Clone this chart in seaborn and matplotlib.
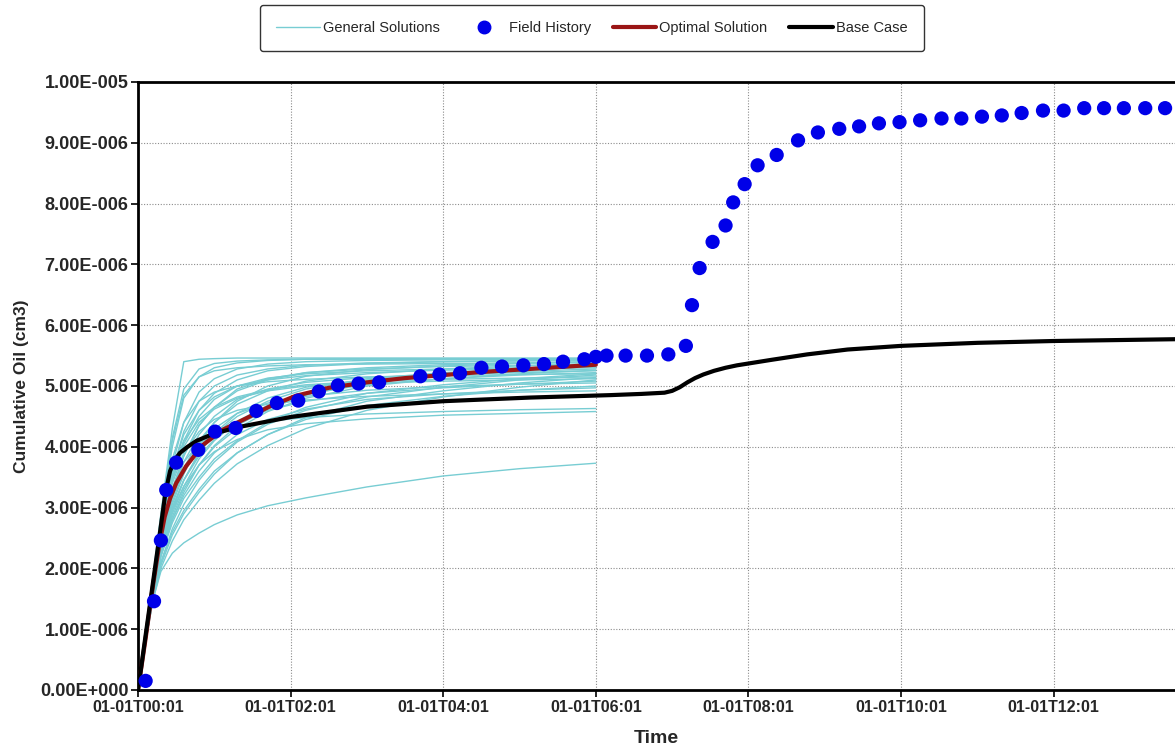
import numpy as np
import pandas as pd
import matplotlib
matplotlib.use("Agg")
import matplotlib.pyplot as plt
import seaborn as sns
from matplotlib.lines import Line2D

# ---------------- data (values in units of 1e-6 cm3, time in hours after 00:01) -------------
X_TICKS = [0, 2, 4, 6, 8, 10, 12]
X_TICK_LABELS = ["01-01T00:01", "01-01T02:01", "01-01T04:01", "01-01T06:01",
                 "01-01T08:01", "01-01T10:01", "01-01T12:01"]
Y_TICKS = [0, 1, 2, 3, 4, 5, 6, 7, 8, 9, 10]
Y_TICK_LABELS = ["0.00E+000", "1.00E-006", "2.00E-006", "3.00E-006", "4.00E-006",
                 "5.00E-006", "6.00E-006", "7.00E-006", "8.00E-006", "9.00E-006",
                 "1.00E-005"]

# Field history (blue dots)
FH_T = [0.10, 0.21, 0.30, 0.37, 0.50, 0.79, 1.01, 1.28, 1.55, 1.82, 2.10, 2.37, 2.62,
        2.89, 3.16, 3.70, 3.95, 4.22, 4.50, 4.77, 5.05, 5.32, 5.57, 5.85, 6.00, 6.14,
        6.39, 6.67, 6.95, 7.18, 7.26, 7.36, 7.53, 7.70, 7.80, 7.95, 8.12, 8.37, 8.65,
        8.91, 9.19, 9.45, 9.71, 9.98, 10.25, 10.53, 10.79, 11.06, 11.32, 11.58, 11.86,
        12.13, 12.40, 12.66, 12.92, 13.20, 13.46]
FH_Y = [0.15, 1.46, 2.46, 3.29, 3.74, 3.95, 4.25, 4.31, 4.59, 4.72, 4.76, 4.91, 5.01,
        5.04, 5.06, 5.16, 5.19, 5.21, 5.30, 5.32, 5.34, 5.36, 5.40, 5.44, 5.48, 5.50,
        5.50, 5.50, 5.52, 5.66, 6.33, 6.94, 7.37, 7.64, 8.02, 8.32, 8.63, 8.80, 9.04,
        9.17, 9.23, 9.27, 9.32, 9.34, 9.37, 9.40, 9.40, 9.43, 9.45, 9.49, 9.53, 9.53,
        9.57, 9.57, 9.57, 9.57, 9.57]

# Optimal solution (dark red)
OPT_T = [0, 0.1, 0.2, 0.28, 0.35, 0.42, 0.5, 0.63, 0.85, 1.11, 1.42, 1.72, 2.07, 2.5,
         3.0, 3.5, 4.0, 4.5, 5.0, 5.5, 6.0]
OPT_Y = [0, 0.85, 1.75, 2.4, 2.85, 3.15, 3.4, 3.68, 4.03, 4.28, 4.47, 4.66, 4.84, 4.97,
         5.06, 5.13, 5.18, 5.23, 5.27, 5.31, 5.35]

# Base case (black)
BASE_T = [0, 0.1, 0.2, 0.3, 0.36, 0.42, 0.48, 0.55, 0.65, 0.77, 1.0, 1.34, 2.0, 3.0, 4.0,
          5.14, 6.19, 6.6, 6.9, 7.0, 7.1, 7.2, 7.3, 7.41, 7.55, 7.7, 7.85, 8.0, 8.3, 8.77,
          9.3, 10.0, 11.0, 12.0, 13.62]
BASE_Y = [0, 0.9, 1.8, 2.7, 3.25, 3.6, 3.78, 3.9, 4.0, 4.1, 4.22, 4.33, 4.49, 4.66, 4.75,
          4.81, 4.85, 4.87, 4.89, 4.92, 4.98, 5.06, 5.13, 5.19, 5.25, 5.30, 5.34, 5.37,
          5.43, 5.52, 5.60, 5.66, 5.71, 5.74, 5.77]

# General solutions (cyan), all sampled at GEN_T
GEN_T = [0, 0.1, 0.2, 0.3, 0.45, 0.6, 0.8, 1.0, 1.3, 1.7, 2.2, 3.0, 4.0, 5.0, 6.0]
GEN_A = [0, 0.9, 1.9, 2.9, 4.3, 5.40, 5.44, 5.45, 5.46, 5.46, 5.46, 5.46, 5.46, 5.46, 5.46]
GEN_B = [0, 0.9, 1.8, 2.8, 4.0, 4.8, 5.15, 5.30, 5.38, 5.42, 5.44, 5.45, 5.45, 5.45, 5.45]
GEN_C = [0, 0.9, 1.8, 2.7, 3.7, 4.4, 4.9, 5.12, 5.28, 5.36, 5.40, 5.42, 5.43, 5.44, 5.44]
GEN_D = [0, 0.85, 1.75, 2.6, 3.5, 4.1, 4.6, 4.88, 5.1, 5.25, 5.32, 5.37, 5.40, 5.42, 5.43]
GEN_E = [0, 0.85, 1.7, 2.5, 3.3, 3.85, 4.35, 4.65, 4.92, 5.1, 5.22, 5.3, 5.35, 5.38, 5.40]
GEN_F = [0, 0.85, 1.7, 2.45, 3.15, 3.65, 4.1, 4.4, 4.7, 4.92, 5.08, 5.2, 5.28, 5.33, 5.36]
GEN_G = [0, 0.85, 1.65, 2.35, 3.0, 3.45, 3.9, 4.2, 4.5, 4.75, 4.95, 5.12, 5.22, 5.28, 5.32]
GEN_H = [0, 0.8, 1.6, 2.25, 2.85, 3.3, 3.7, 4.0, 4.3, 4.58, 4.8, 5.0, 5.12, 5.2, 5.26]
GEN_I = [0, 0.8, 1.6, 2.2, 2.75, 3.15, 3.5, 3.8, 4.1, 4.4, 4.65, 4.88, 5.02, 5.12, 5.2]
GEN_J = [0, 0.8, 1.55, 2.1, 2.6, 2.95, 3.3, 3.6, 3.9, 4.2, 4.48, 4.75, 4.92, 5.05, 5.14]
GEN_K = [0, 0.8, 1.5, 2.0, 2.45, 2.8, 3.12, 3.4, 3.72, 4.02, 4.3, 4.6, 4.82, 4.98, 5.10]
GEN_L = [0, 0.85, 1.7, 2.5, 3.3, 3.75, 4.05, 4.2, 4.33, 4.42, 4.48, 4.54, 4.58, 4.61, 4.63]
GEN_M = [0, 0.8, 1.6, 2.3, 2.95, 3.35, 3.7, 3.92, 4.12, 4.28, 4.38, 4.46, 4.52, 4.55, 4.58]
GEN_N = [0, 0.8, 1.5, 1.95, 2.25, 2.42, 2.58, 2.72, 2.88, 3.03, 3.16, 3.34, 3.52, 3.64, 3.73]
GEN_O = [0, 0.85, 1.7, 2.5, 3.4, 3.9, 4.25, 4.45, 4.6, 4.7, 4.77, 4.83, 4.87, 4.9, 4.92]
GEN_P = [0, 0.8, 1.6, 2.2, 2.8, 3.2, 3.6, 3.9, 4.2, 4.45, 4.62, 4.78, 4.87, 4.93, 4.97]
GEN_Q = [0, 0.85, 1.7, 2.4, 3.1, 3.6, 4.05, 4.3, 4.55, 4.72, 4.83, 4.93, 4.99, 5.03, 5.05]
GEN_R = [0, 0.9, 1.8, 2.7, 3.8, 4.4, 4.75, 4.9, 5.0, 5.07, 5.11, 5.15, 5.17, 5.19, 5.20]
GEN_S = [0, 0.9, 1.8, 2.65, 3.6, 4.2, 4.6, 4.82, 5.0, 5.1, 5.17, 5.22, 5.26, 5.28, 5.30]
GEN_T2 = [0, 0.85, 1.7, 2.55, 3.45, 4.0, 4.4, 4.62, 4.8, 4.92, 5.0, 5.05, 5.08, 5.10, 5.12]
GEN_U = [0, 0.9, 1.85, 2.85, 4.1, 4.85, 5.15, 5.25, 5.3, 5.33, 5.35, 5.36, 5.37, 5.38, 5.38]
GEN_V = [0, 0.85, 1.75, 2.6, 3.6, 4.25, 4.75, 5.0, 5.18, 5.28, 5.34, 5.38, 5.40, 5.41, 5.42]
GEN_W = [0, 0.85, 1.7, 2.4, 3.2, 3.75, 4.2, 4.5, 4.78, 4.95, 5.06, 5.14, 5.19, 5.22, 5.25]
GEN_X = [0, 0.8, 1.6, 2.3, 3.0, 3.45, 3.85, 4.12, 4.4, 4.6, 4.75, 4.88, 4.97, 5.03, 5.08]
GEN_Y = [0, 0.8, 1.6, 2.2, 2.8, 3.25, 3.7, 4.02, 4.35, 4.62, 4.85, 5.05, 5.18, 5.27, 5.34]
GEN_Z = [0, 0.8, 1.55, 2.1, 2.65, 3.05, 3.45, 3.75, 4.08, 4.37, 4.6, 4.82, 4.98, 5.1, 5.18]
GEN_AA = [0, 0.9, 1.85, 2.85, 4.15, 4.95, 5.28, 5.37, 5.41, 5.43, 5.44, 5.44, 5.44, 5.44, 5.44]
GEN_AB = [0, 0.85, 1.65, 2.3, 2.95, 3.45, 3.9, 4.22, 4.55, 4.8, 4.98, 5.1, 5.18, 5.24, 5.28]
GEN_AC = [0, 0.85, 1.75, 2.6, 3.55, 4.1, 4.45, 4.65, 4.82, 4.94, 5.02, 5.08, 5.11, 5.13, 5.15]
GEN_AD = [0, 0.8, 1.55, 2.05, 2.55, 2.9, 3.25, 3.55, 3.9, 4.2, 4.45, 4.68, 4.83, 4.93, 5.00]
GEN_AE = [0, 0.8, 1.65, 2.35, 3.05, 3.55, 4.05, 4.4, 4.75, 5.0, 5.16, 5.27, 5.33, 5.37, 5.40]
GEN_AF = [0, 0.85, 1.75, 2.55, 3.45, 4.05, 4.5, 4.78, 5.0, 5.13, 5.2, 5.25, 5.28, 5.30, 5.32]
GEN_AG = [0, 0.8, 1.6, 2.25, 2.9, 3.35, 3.8, 4.1, 4.42, 4.68, 4.88, 5.02, 5.12, 5.18, 5.22]
GEN_AH = [0, 0.85, 1.7, 2.45, 3.3, 3.85, 4.35, 4.65, 4.95, 5.12, 5.22, 5.28, 5.32, 5.34, 5.36]

GENERAL = [GEN_A, GEN_B, GEN_C, GEN_D, GEN_E, GEN_F, GEN_G, GEN_H, GEN_I, GEN_J, GEN_K,
           GEN_L, GEN_M, GEN_N, GEN_O, GEN_P, GEN_Q, GEN_R, GEN_S, GEN_T2, GEN_U, GEN_V,
           GEN_W, GEN_X, GEN_Y, GEN_Z, GEN_AA, GEN_AB, GEN_AC, GEN_AD, GEN_AE, GEN_AF,
           GEN_AG, GEN_AH]

LEGEND_LABELS = ["General Solutions", "Field History", "Optimal Solution", "Base Case"]

# ---------------- styling ----------------
sns.set_style("white")
plt.rcParams["font.family"] = ["Liberation Sans", "DejaVu Sans"]

CYAN = "#78cdd3"
BLUE = "#0000e8"
RED = "#9a1515"

fig = plt.figure(figsize=(11.75, 7.48), dpi=100)
ax = fig.add_axes([138 / 1175, 58 / 748, 1 - 138 / 1175, 608 / 748])

gen_df = pd.DataFrame({
    "t": np.tile(GEN_T, len(GENERAL)),
    "y": np.concatenate(GENERAL),
    "run": np.repeat(np.arange(len(GENERAL)), len(GEN_T)),
})
sns.lineplot(data=gen_df, x="t", y="y", units="run", estimator=None, color=CYAN,
             linewidth=1.0, ax=ax, zorder=2)
sns.lineplot(x=OPT_T, y=OPT_Y, color=RED, linewidth=3.0, estimator=None, sort=False,
             ax=ax, zorder=3)
sns.lineplot(x=BASE_T, y=BASE_Y, color="black", linewidth=3.0, estimator=None, sort=False,
             ax=ax, zorder=4)
sns.scatterplot(x=FH_T, y=FH_Y, color=BLUE, s=105, edgecolor="none", ax=ax, zorder=5)

ax.set_xlim(0, 13.59)
ax.set_ylim(0, 10)
ax.set_xticks(X_TICKS)
ax.set_xticklabels(X_TICK_LABELS, fontsize=11.5, fontweight="bold")
ax.set_yticks(Y_TICKS)
ax.set_yticklabels(Y_TICK_LABELS, fontsize=13, fontweight="bold")
ax.tick_params(axis="both", which="major", direction="out", length=5, width=1.2,
               color="black", bottom=True, left=True, pad=2)

ax.grid(True, color="#8c8c8c", linestyle=(0, (1, 1.5)), linewidth=0.8)
ax.set_axisbelow(True)

for side in ["left", "bottom", "top"]:
    ax.spines[side].set_color("black")
    ax.spines[side].set_linewidth(2.0)
ax.spines["right"].set_visible(False)

ax.set_xlabel("Time", fontsize=14, fontweight="bold", labelpad=11)
ax.set_ylabel("Cumulative Oil (cm3)", fontsize=12.5, fontweight="bold", labelpad=8)

handles = [
    Line2D([], [], color=CYAN, linewidth=1.0),
    Line2D([], [], color=BLUE, marker="o", linestyle="none", markersize=9),
    Line2D([], [], color=RED, linewidth=3.0),
    Line2D([], [], color="black", linewidth=3.0),
]
leg = fig.legend(handles, LEGEND_LABELS, loc="center",
                 bbox_to_anchor=(592 / 1175, 1 - 28 / 748), ncol=4, frameon=True,
                 fancybox=True, edgecolor="black", fontsize=10.5, handlelength=3.0,
                 handletextpad=0.2, columnspacing=1.5, borderpad=1.1)
leg.get_frame().set_linewidth(1.0)

fig.savefig("out.png", dpi=100)
